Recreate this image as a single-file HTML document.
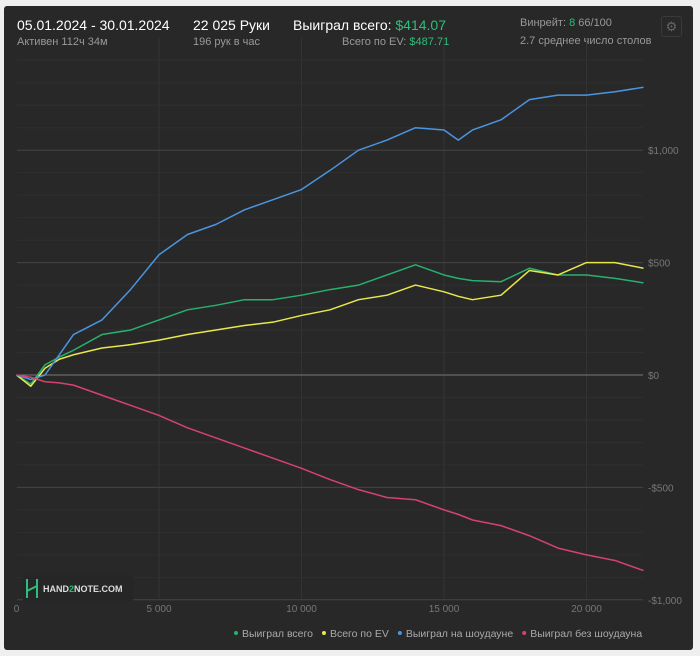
<!DOCTYPE html>
<html><head><meta charset="utf-8"><style>
body{margin:0;background:#efefef;width:700px;height:656px;overflow:hidden;font-family:"Liberation Sans","Noto Sans CJK SC",sans-serif}
#panel{position:absolute;left:4px;top:6px;width:689px;height:644px;background:#282828;border-radius:3px}
.t{position:absolute;white-space:nowrap}
</style></head><body>
<div id="panel"></div>
<div class="t" style="left:17px;top:17px;font-size:14px;color:#fff">05.01.2024 - 30.01.2024</div>
<div class="t" style="left:17px;top:36px;font-size:11px;color:#999">Активен 112ч 34м</div>
<div class="t" style="left:193px;top:17px;font-size:14px;color:#fff">22 025 Руки</div>
<div class="t" style="left:193px;top:36px;font-size:11px;color:#999">196 рук в час</div>
<div class="t" style="left:293px;top:17px;font-size:14px;color:#fff">Выиграл всего: <span style="color:#2ebd7a">$414.07</span></div>
<div class="t" style="left:342px;top:36px;font-size:11px;color:#999">Всего по EV: <span style="color:#2ebd7a">$487.71</span></div>
<div class="t" style="left:520px;top:17px;font-size:11px;color:#999">Винрейт: <span style="color:#2ebd7a">8</span> 66/100</div>
<div class="t" style="left:520px;top:35px;font-size:11px;color:#999">2.7 среднее число столов</div>
<div class="t" style="left:661px;top:16px;width:19px;height:19px;border:1px solid #3a3a3a;border-radius:3px;color:#666;font-size:13px;text-align:center;line-height:19px">⚙</div>
<svg id="chart" width="700" height="656" style="position:absolute;left:0;top:0"></svg>
<script>
const hands=[0,500,1000,1500,2000,3000,4000,5000,6000,7000,8000,9000,10000,11000,12000,13000,14000,15000,15500,16000,17000,18000,19000,20000,21000,22000];
const wonTotal=[0,-40,45,80,110,180,200,245,290,310,335,335,355,380,400,445,490,445,430,420,415,475,445,445,430,410];
const evTotal=[0,-50,30,70,90,120,135,155,180,200,220,235,265,290,335,355,400,370,350,335,355,465,445,500,500,475];
const showdown=[0,-20,0,90,180,245,380,535,625,670,735,780,825,910,1000,1045,1100,1090,1045,1090,1135,1225,1245,1245,1260,1280];
const nonShowdown=[0,-10,-30,-35,-45,-90,-135,-180,-235,-280,-325,-370,-415,-465,-510,-545,-555,-600,-620,-645,-670,-715,-770,-800,-825,-870];
const xTicks=[0,5000,10000,15000,20000];
const xTickLabels=["0","5 000","10 000","15 000","20 000"];
const yTicks=[1000,500,0,-500,-1000];
const yTickLabels=["$1,000","$500","$0","-$500","-$1,000"];
const series=[{n:"Выиграл всего",d:wonTotal,c:"#27b06e"},{n:"Всего по EV",d:evTotal,c:"#e8e84a"},{n:"Выиграл на шоудауне",d:showdown,c:"#4a95e0"},{n:"Выиграл без шоудауна",d:nonShowdown,c:"#d6426e"}];
const NS="http://www.w3.org/2000/svg",svg=document.getElementById('chart');
const X=v=>16.5+v*(142.5/5000), Y=v=>375-v*(112.4/500);
function mk(t,a,p){const e=document.createElementNS(NS,t);for(const k in a)e.setAttribute(k,a[k]);(p||svg).appendChild(e);return e;}
for(let v=-1000;v<=1400;v+=100){if(v%500)mk('line',{x1:17,x2:643,y1:Y(v),y2:Y(v),stroke:'#2f2f2f','stroke-width':1});}
xTicks.forEach(v=>{if(v)mk('line',{x1:X(v),x2:X(v),y1:38,y2:599,stroke:'#333','stroke-width':1});});
yTicks.forEach((v,i)=>{const l=mk('line',{x1:17,x2:643,y1:Y(v),y2:Y(v),stroke:v===0?'#777':'#444','stroke-width':1});

const t=mk('text',{x:648,y:Y(v)+4,fill:'#777','font-size':10,'font-family':'Liberation Sans'});t.textContent=yTickLabels[i];
});
xTicks.forEach((v,i)=>{const t=mk('text',{x:X(v),y:612,fill:'#777','font-size':10,'text-anchor':'middle','font-family':'Liberation Sans'});t.textContent=xTickLabels[i];
});
series.forEach(s=>{const p=mk('polyline',{points:s.d.map((v,i)=>X(hands[i])+','+Y(v)).join(' '),fill:'none',stroke:s.c,'stroke-width':1.5,'stroke-linejoin':'round'});
});
const g=mk('g',{});
mk('rect',{x:23,y:575,width:110,height:26,fill:'#262626'},g);
mk('path',{d:'M27 579v19M37 579v19M27 591l10-5',stroke:'#2ebd7a','stroke-width':2,fill:'none'},g);
const lt=mk('text',{x:43,y:592,fill:'#ddd','font-size':9,'font-weight':'bold','font-family':'Liberation Sans'},g);lt.innerHTML='HAND<tspan fill="#2ebd7a">2</tspan>NOTE.COM';
let lx=236;series.forEach(s=>{const c=mk('circle',{cx:lx,cy:633,r:2,fill:s.c});
const t=mk('text',{x:lx+6,y:637,fill:'#aaa','font-size':10.5,'font-family':'Liberation Sans'});t.textContent=s.n;
lx+=t.getComputedTextLength()+17;});
</script>
</body></html>
